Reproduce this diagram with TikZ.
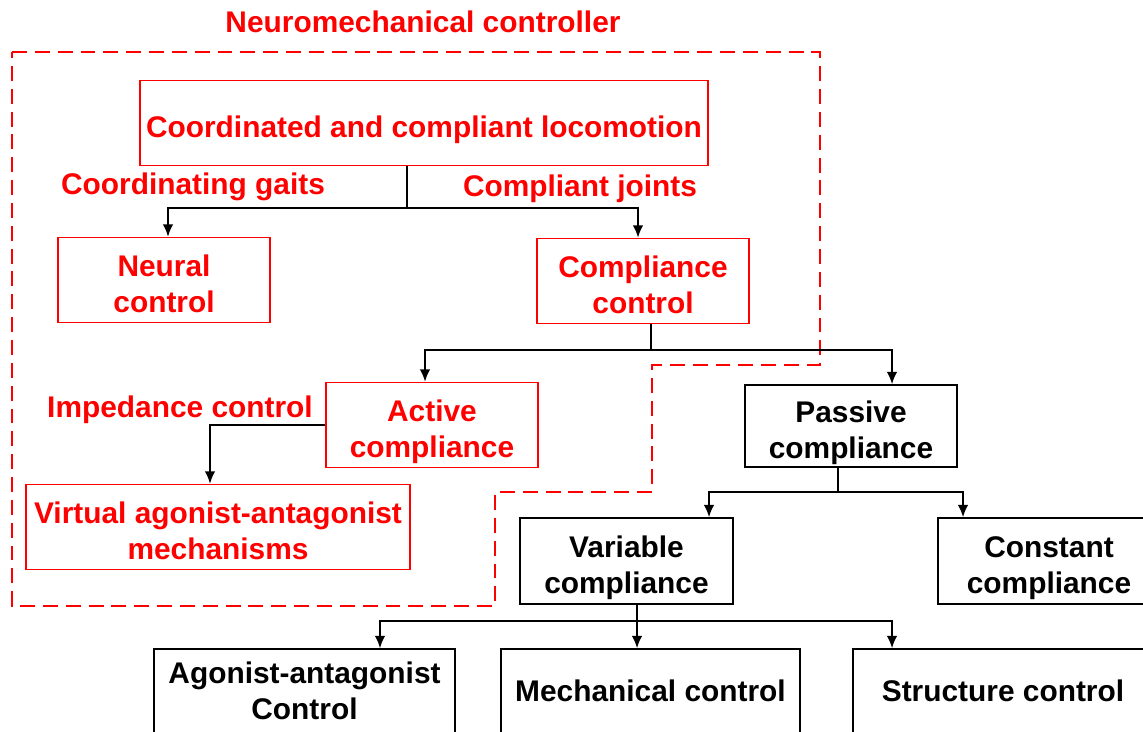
\documentclass[tikz,border=0pt]{standalone}
\usepackage{fontspec}
\setmainfont{Liberation Sans}
\usetikzlibrary{arrows.meta}
\definecolor{nmred}{RGB}{255,0,0}

\begin{document}
\begin{tikzpicture}[
    x=0.02cm, y=-0.02cm,
    every node/.style={font=\fontsize{17}{20.5}\selectfont\bfseries, align=center, inner sep=0pt},
    redbox/.style={draw=nmred, text=nmred, line width=1pt, minimum height=1.7cm},
    blackbox/.style={draw=black, line width=1pt, minimum height=1.7cm},
    lowtext/.style={text height=#1, text depth=0pt},
    redlabel/.style={text=nmred},
    arr/.style={-{Latex[length=7pt,width=6pt]}, line width=0.9pt},
    ctrlzone/.style={draw=nmred, line width=1pt, dash pattern=on 8.5pt off 4.5pt},
    ]
    \clip (0,0) rectangle (1143,731);

    % controller zone
    \draw[ctrlzone] (12,52) -- (820,52) -- (820,365) -- (652,365) -- (652,492)
      -- (495,492) -- (495,606) -- (12,606) -- cycle;
    \node[redlabel] (title) at (423,22) {Neuromechanical controller};

    % red part
    \node[redbox, lowtext=16pt, minimum width=11.36cm] (loco) at (424,123) {Coordinated and compliant locomotion};
    \node[redlabel] (gaits) at (193,187) {Coordinating gaits};
    \node[redlabel] (joints) at (580,189) {Compliant joints};
    \node[redbox, lowtext=36.5pt, minimum width=4.24cm] (neural) at (164,280) {Neural\\control};
    \node[redbox, lowtext=36.5pt, minimum width=4.24cm] (compl) at (643,281) {Compliance\\control};
    \node[redbox, lowtext=36.5pt, minimum width=4.24cm] (active) at (432,425) {Active\\compliance};
    \node[redlabel] (imped) at (180,410) {Impedance control};
    \node[redbox, lowtext=36.5pt, minimum width=7.68cm] (virtual) at (218,527) {Virtual agonist-antagonist\\mechanisms};

    % black part
    \node[blackbox, lowtext=36.5pt, minimum width=4.24cm, minimum height=1.64cm] (passive) at (851,426) {Passive\\compliance};
    \node[blackbox, lowtext=36.5pt, minimum width=4.26cm, minimum height=1.72cm] (variable) at (626.5,561) {Variable\\compliance};
    \node[blackbox, lowtext=36.5pt, minimum width=4.44cm, minimum height=1.72cm] (constant) at (1049,561) {Constant\\compliance};
    \node[blackbox, minimum width=6.02cm, minimum height=1.68cm] (agonist) at (304.5,691) {Agonist-antagonist\\Control};
    \node[blackbox, minimum width=5.98cm, minimum height=1.68cm] (mech) at (650.5,691) {Mechanical control};
    \node[blackbox, minimum width=6cm, minimum height=1.68cm] (struct) at (1003,691) {Structure control};

    % junctions
    \coordinate (j1) at (407,208);
    \coordinate (j2) at (651,350);
    \coordinate (j3) at (838,492);
    \coordinate (j4) at (637,621);

    \draw[line width=0.9pt] (loco.south -| j1) -- (j1);
    \draw[arr] (j1) -| (168,0 |- neural.north);
    \draw[arr] (j1) -| (638,0 |- compl.north);

    \draw[line width=0.9pt] (compl.south -| j2) -- (j2);
    \draw[arr] (j2) -| (425,0 |- active.north);
    \draw[arr] (j2) -| (892,0 |- passive.north);

    \draw[arr] (active.west) -| (210,0 |- virtual.north);

    \draw[line width=0.9pt] (passive.south -| j3) -- (j3);
    \draw[arr] (j3) -| (709,0 |- variable.north);
    \draw[arr] (j3) -| (963,0 |- constant.north);

    \draw[line width=0.9pt] (variable.south -| j4) -- (j4);
    \draw[arr] (j4) -| (380,0 |- agonist.north);
    \draw[arr] (j4) -- (j4 |- mech.north);
    \draw[arr] (j4) -| (892,0 |- struct.north);
\end{tikzpicture}
\end{document}
